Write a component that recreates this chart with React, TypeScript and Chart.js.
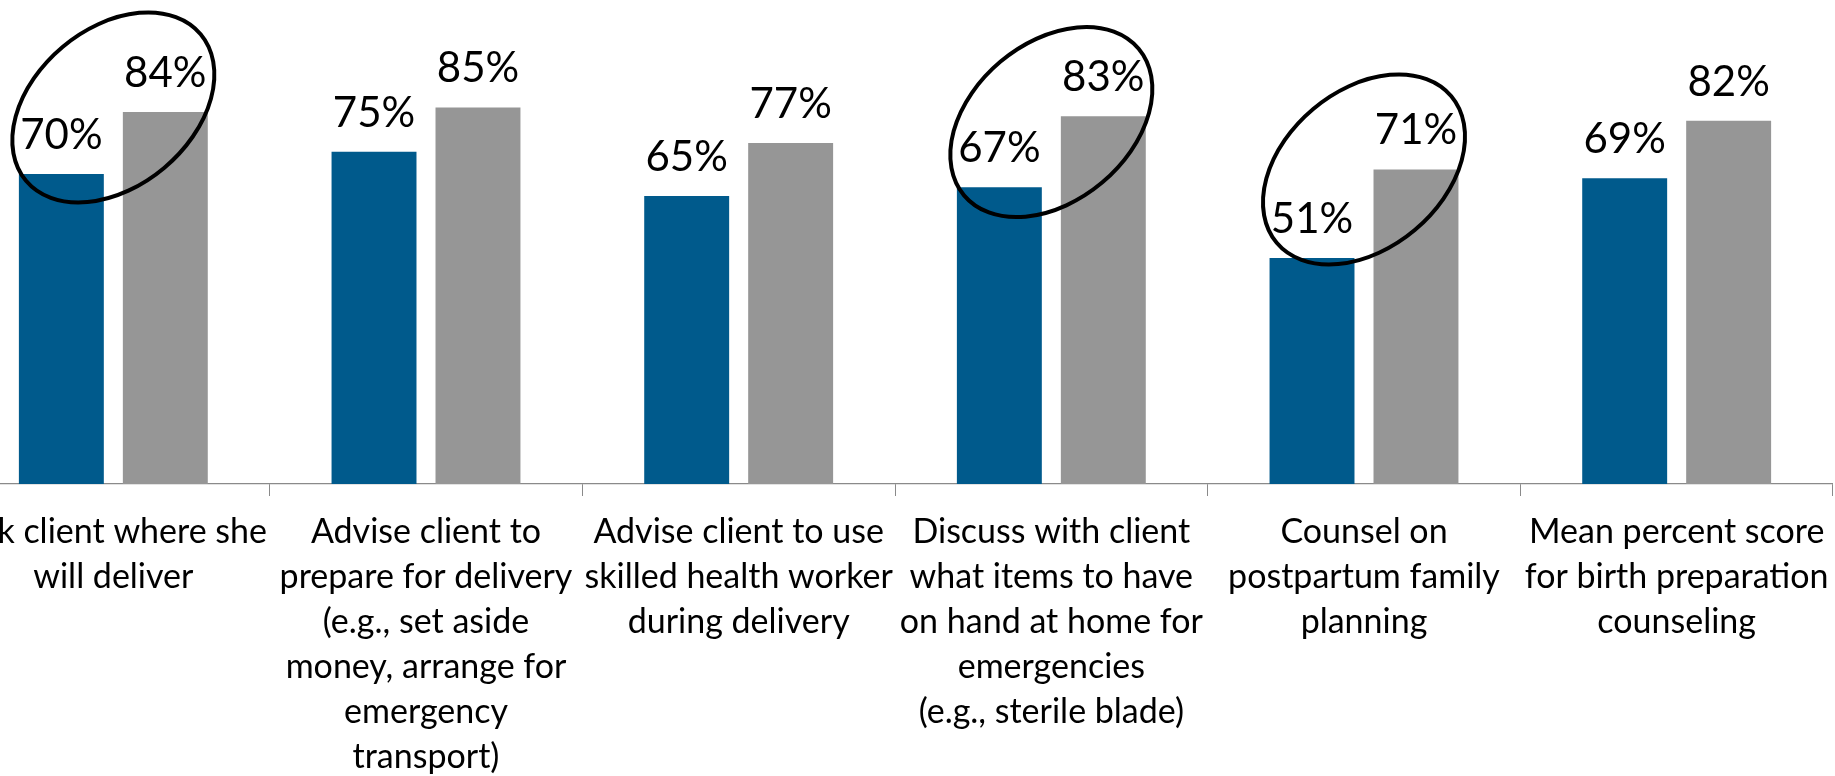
import React, { useEffect, useRef } from "react";
import { Chart, registerables } from "chart.js";

Chart.register(...registerables);

// ---- data ----
const categories: string[][] = [
  ["Ask client where she", "will deliver"],
  ["Advise client to", "prepare for delivery", "(e.g., set aside", "money, arrange for", "emergency", "transport)"],
  ["Advise client to use", "skilled health worker", "during delivery"],
  ["Discuss with client", "what items to have", "on hand at home for", "emergencies", "(e.g., sterile blade)"],
  ["Counsel on", "postpartum family", "planning"],
  ["Mean percent score", "for birth preparation", "counseling"],
];
const seriesBlue: number[] = [70, 75, 65, 67, 51, 69];
const seriesGray: number[] = [84, 85, 77, 83, 71, 82];
// highlighted pairs (category index) and the value at the centre of each ring
const ringCategories: number[] = [0, 3, 4];
const ringCenterValues: number[] = [85, 81.7, 71];

// ---- layout constants ----
const CANVAS_W = 1876;
const CANVAS_H = 880;
const CANVAS_LEFT = -43;
const PLOT_TOP = 41;
const PLOT_BOTTOM = 484;
const FONT = "Lato, 'Open Sans', sans-serif";

const valueLabels = {
  id: "valueLabels",
  afterDatasetsDraw(chart: any) {
    const ctx = chart.ctx;
    ctx.save();
    ctx.font = `42px ${FONT}`;
    ctx.fillStyle = "#000000";
    ctx.textAlign = "center";
    ctx.textBaseline = "alphabetic";
    chart.data.datasets.forEach((ds: any, i: number) => {
      chart.getDatasetMeta(i).data.forEach((bar: any, j: number) => {
        ctx.fillText(`${ds.data[j]}%`, bar.x, bar.y - 25);
      });
    });
    ctx.restore();
  },
};

const rings = {
  id: "rings",
  afterDraw(chart: any) {
    const ctx = chart.ctx;
    const xs = chart.scales.x;
    const ys = chart.scales.y;
    ctx.save();
    ctx.strokeStyle = "#000000";
    ctx.lineWidth = 4;
    ringCategories.forEach((c, k) => {
      const cx = xs.getPixelForValue(c);
      const cy = ys.getPixelForValue(ringCenterValues[k]);
      ctx.beginPath();
      ctx.ellipse(cx, cy, 114, 79, (-40 * Math.PI) / 180, 0, Math.PI * 2);
      ctx.stroke();
    });
    ctx.restore();
  },
};

export default function App() {
  const ref = useRef<HTMLCanvasElement>(null);

  useEffect(() => {
    document.body.style.margin = "0";
    const chart = new Chart(ref.current as HTMLCanvasElement, {
      type: "bar",
      data: {
        labels: categories as any,
        datasets: [
          {
            data: seriesBlue,
            backgroundColor: "#005A8C",
            categoryPercentage: 0.665,
            barPercentage: 0.817,
          },
          {
            data: seriesGray,
            backgroundColor: "#969696",
            categoryPercentage: 0.665,
            barPercentage: 0.817,
          },
        ],
      },
      options: {
        responsive: false,
        animation: false,
        devicePixelRatio: 1,
        layout: { padding: { top: PLOT_TOP, left: 0, right: 0, bottom: 0 } },
        plugins: {
          legend: { display: false },
          tooltip: { enabled: false },
        },
        scales: {
          x: {
            grid: {
              display: true,
              drawOnChartArea: false,
              drawTicks: true,
              tickLength: 12,
              color: "#8a8a8a",
              lineWidth: 1,
              offset: true,
            },
            border: { display: true, color: "#8a8a8a", width: 1.2 },
            ticks: {
              autoSkip: false,
              maxRotation: 0,
              minRotation: 0,
              padding: 14,
              color: "#000000",
              font: { family: FONT, size: 34, lineHeight: 45 / 34 },
            },
            afterFit: (scale: any) => {
              scale.height = CANVAS_H - PLOT_BOTTOM;
              scale.paddingLeft = 0;
              scale.paddingRight = 0;
            },
          },
          y: { display: false, min: 0, max: 100 },
        },
      },
      plugins: [valueLabels, rings],
    });
    return () => chart.destroy();
  }, []);

  return (
    <div
      style={{
        position: "fixed",
        left: 0,
        top: 0,
        width: 1835,
        height: 776,
        overflow: "hidden",
        background: "#ffffff",
      }}
    >
      <canvas
        ref={ref}
        width={CANVAS_W}
        height={CANVAS_H}
        style={{ position: "absolute", left: CANVAS_LEFT, top: 0, width: CANVAS_W, height: CANVAS_H }}
      />
    </div>
  );
}
